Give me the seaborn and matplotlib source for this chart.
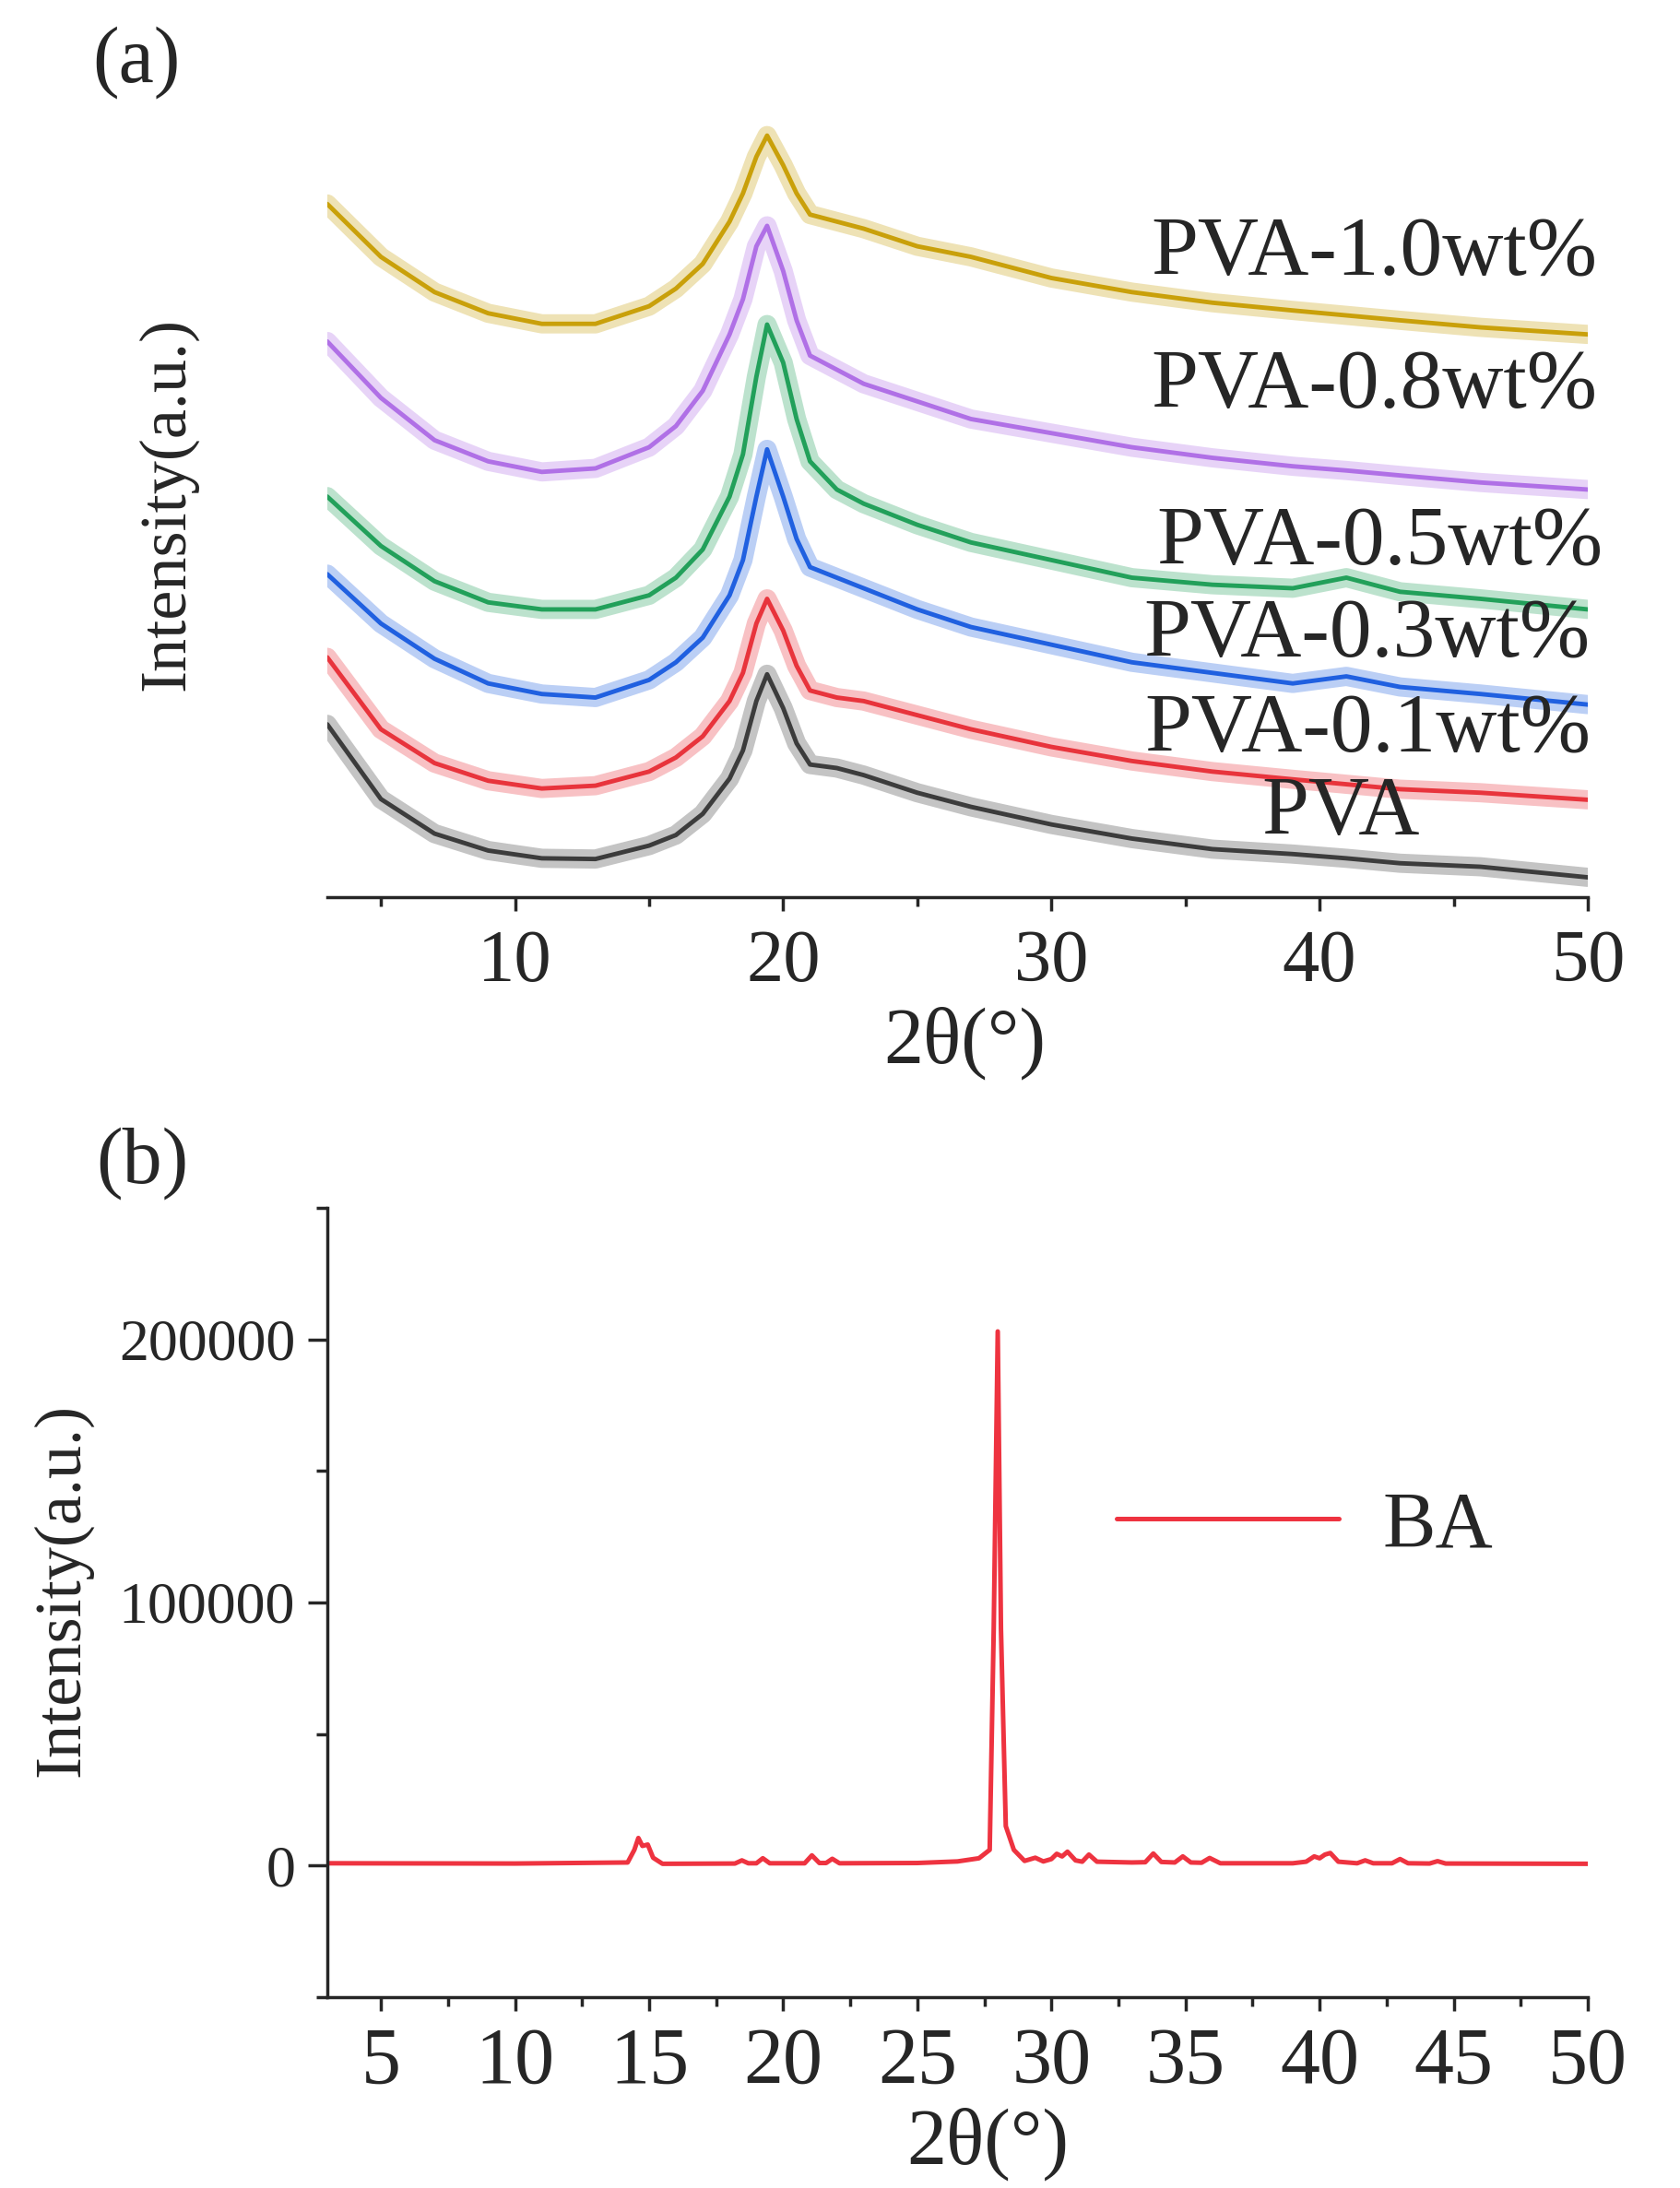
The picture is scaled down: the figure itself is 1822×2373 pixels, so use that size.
import pandas as pd
import matplotlib
matplotlib.use("Agg")
import matplotlib.pyplot as plt
import seaborn as sns
from matplotlib.ticker import MultipleLocator, FuncFormatter

# ---- panel (a): PVA films, stacked XRD traces (a.u.) ----
theta_a = [3, 5, 7, 9, 11, 13, 15, 16, 17, 18, 18.5, 19, 19.4, 20, 20.5, 21,
           22, 23, 25, 27, 30, 33, 36, 39, 41, 43, 46, 50]
pva = [245, 139, 90, 66, 55, 54, 73, 88, 118, 168, 208, 278, 316, 268, 218, 188,
       183, 173, 148, 128, 103, 83, 68, 61, 55, 48, 43, 28]
pva_01 = [340, 238, 190, 165, 154, 158, 178, 198, 228, 278, 318, 388, 423, 378, 328, 293,
          283, 278, 258, 238, 213, 193, 178, 167, 160, 153, 148, 138]
pva_03 = [458, 388, 338, 303, 288, 283, 308, 333, 368, 428, 478, 568, 635, 568, 508, 468,
          453, 438, 408, 383, 358, 333, 318, 303, 313, 298, 288, 273]
pva_05 = [568, 498, 448, 418, 408, 408, 428, 453, 493, 568, 628, 738, 812, 758, 678, 618,
          578, 558, 528, 503, 478, 453, 443, 438, 453, 433, 423, 408]
pva_08 = [788, 708, 648, 618, 603, 608, 638, 668, 718, 798, 848, 923, 952, 888, 818, 768,
          748, 728, 703, 678, 658, 638, 623, 611, 605, 598, 588, 578]
pva_10 = [983, 908, 858, 828, 813, 813, 838, 863, 898, 958, 998, 1050, 1080, 1038, 998, 968,
          958, 948, 923, 908, 878, 858, 843, 832, 825, 818, 808, 798]

samples = ["PVA", "PVA-0.1wt%", "PVA-0.3wt%", "PVA-0.5wt%", "PVA-0.8wt%", "PVA-1.0wt%"]
series = [pva, pva_01, pva_03, pva_05, pva_08, pva_10]
colors = ["#3c3c3c", "#e8343c", "#2060e0", "#22a05a", "#b070e6", "#c9a00a"]

# label placement (data coords of panel a)
label_x = [40.8, 50.1, 50.1, 50.56, 50.35, 50.35]
label_y = [89, 206, 340, 471, 694, 882]
label_ha = ["center", "right", "right", "right", "right", "right"]

# ---- panel (b): boric acid ----
theta_b = [3, 10, 14.2, 14.45, 14.6, 14.75, 14.95, 15.15, 15.5,
           18.2, 18.46, 18.7, 19.0, 19.24, 19.5,
           20.8, 21.07, 21.35, 21.6, 21.83, 22.1,
           25.0, 26.5, 27.3, 27.7, 27.85, 28.0, 28.12, 28.3, 28.6,
           29.0, 29.4, 29.7, 30.0, 30.2, 30.4, 30.6, 30.9, 31.15, 31.4, 31.7,
           33.0, 33.5, 33.8, 34.1, 34.6, 34.9, 35.2, 35.6, 35.9, 36.3,
           39.0, 39.5, 39.8, 40.0, 40.2, 40.4, 40.7,
           41.4, 41.7, 42.0, 42.7, 43.0, 43.3, 44.1, 44.4, 44.7, 50]
ba = [900, 800, 1200, 6000, 10500, 7500, 8000, 3000, 700,
      800, 2000, 900, 900, 2800, 900,
      900, 3900, 1000, 1000, 2600, 900,
      1000, 1600, 2800, 6000, 90000, 203000, 90000, 15000, 6000,
      1800, 3000, 1600, 2500, 4500, 3500, 5300, 2000, 1500, 4200, 1500,
      1200, 1300, 4600, 1400, 1200, 3500, 1200, 1100, 2900, 900,
      900, 1500, 3500, 2800, 4200, 4800, 1500,
      900, 2000, 900, 900, 2500, 900, 800, 1700, 800, 700]
ba_color = "#ee3340"

rows = []
for name, vals in zip(samples, series):
    for t, v in zip(theta_a, vals):
        rows.append({"two_theta": t, "intensity": v, "sample": name})
df_a = pd.DataFrame(rows)
df_b = pd.DataFrame({"two_theta": theta_b, "intensity": ba})

sns.set_style("ticks")
plt.rcParams["font.family"] = ["Liberation Serif", "DejaVu Serif"]
plt.rcParams["axes.linewidth"] = 2.5

fig = plt.figure(figsize=(18.22, 23.73), dpi=100)
ax_a = fig.add_axes([0.1948, 0.590, 0.7503, 0.3577])
ax_b = fig.add_axes([0.1948, 0.0872, 0.7503, 0.3608])

pal = dict(zip(samples, colors))
# soft halo to imitate the noisy band of the raw scans
sns.lineplot(data=df_a, x="two_theta", y="intensity", hue="sample", palette=pal,
             linewidth=15, alpha=0.3, estimator=None, legend=False, ax=ax_a)
sns.lineplot(data=df_a, x="two_theta", y="intensity", hue="sample", palette=pal,
             linewidth=3.5, estimator=None, legend=False, ax=ax_a)

for name, lx, ly, ha in zip(samples, label_x, label_y, label_ha):
    ax_a.text(lx, ly, name, ha=ha, va="baseline", fontsize=66, clip_on=False)

ax_a.set_xlim(3, 50)
ax_a.set_ylim(0, 1110)
ax_a.set_xlabel("")
ax_a.set_ylabel("")
ax_a.set_yticks([])
for s in ["top", "right", "left"]:
    ax_a.spines[s].set_visible(False)
ax_a.xaxis.set_major_locator(MultipleLocator(10))
ax_a.xaxis.set_minor_locator(MultipleLocator(5))
ax_a.tick_params(axis="x", which="major", length=11, width=2.5, labelsize=58, pad=14)
ax_a.tick_params(axis="x", which="minor", length=7, width=2.5)

sns.lineplot(data=df_b, x="two_theta", y="intensity", color=ba_color, linewidth=3.6,
             estimator=None, sort=False, label="BA", ax=ax_b)
ax_b.set_xlim(3, 50)
ax_b.set_ylim(-50000, 250000)
ax_b.set_xlabel("")
ax_b.set_ylabel("")
for s in ["top", "right"]:
    ax_b.spines[s].set_visible(False)
ax_b.xaxis.set_major_locator(MultipleLocator(5))
ax_b.xaxis.set_minor_locator(MultipleLocator(2.5))
ax_b.yaxis.set_major_locator(MultipleLocator(100000))
ax_b.yaxis.set_minor_locator(MultipleLocator(50000))
ax_b.yaxis.set_major_formatter(FuncFormatter(lambda v, p: f"{v:.0f}"))
ax_b.tick_params(axis="x", which="major", length=11, width=2.5, labelsize=62, pad=12)
ax_b.tick_params(axis="x", which="minor", length=7, width=2.5)
ax_b.tick_params(axis="y", which="major", length=15, width=2.5, labelsize=46, pad=10)
ax_b.tick_params(axis="y", which="minor", length=9, width=2.5)
ax_b.legend(loc="center left", bbox_to_anchor=(0.626, 0.595), frameon=False,
            fontsize=62, handlelength=2.8, handletextpad=0.55,
            borderpad=0, borderaxespad=0)

fig.text(0.0812, 0.9713, "(a)", fontsize=62, ha="center", va="center")
fig.text(0.0845, 0.4682, "(b)", fontsize=62, ha="center", va="center")
fig.text(0.0999, 0.7695, "Intensity(a.u.)", fontsize=52, rotation=90, ha="center", va="center")
fig.text(0.0373, 0.2731, "Intensity(a.u.)", fontsize=52, rotation=90, ha="center", va="center")
fig.text(0.574, 0.523, "2θ(°)", fontsize=62, ha="center", va="center")
fig.text(0.588, 0.0198, "2θ(°)", fontsize=62, ha="center", va="center")

fig.savefig("out.png", dpi=100)
